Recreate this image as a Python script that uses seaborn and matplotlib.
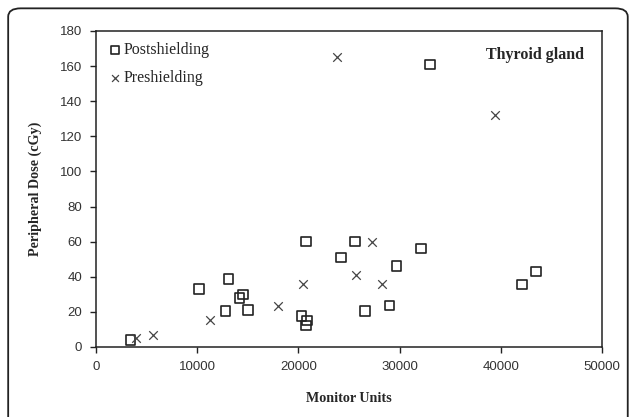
import numpy as np
import pandas as pd
import seaborn as sns
import matplotlib.pyplot as plt
from matplotlib.patches import FancyBboxPatch

# postshielding measurements
post_mu = [3400, 10200, 12800, 13100, 14200, 14500, 15000, 20300, 20750, 20850,
           20750, 24200, 25600, 26600, 29000, 29700, 32100, 33000, 42100, 43500]
post_dose = [4, 33, 20.5, 38.7, 28, 30, 21, 17.8, 12.3, 15,
             60, 51, 60, 20.5, 23.7, 46, 56, 161, 35.5, 43]

# preshielding measurements
pre_mu = [4000, 5600, 11300, 18000, 20500, 23800, 25700, 27300, 28300, 39400]
pre_dose = [5.3, 6.6, 15.4, 23.3, 36, 165, 41, 60, 35.7, 132]

sns.set_style("white")
serif = ["Liberation Serif", "DejaVu Serif"]
sans = ["Liberation Sans", "DejaVu Sans"]

fig = plt.figure(figsize=(6.29, 4.17), dpi=100)
ax = fig.add_axes([0.1526, 0.1679, 0.8044, 0.7578])

# outer rounded frame (bottom edge cut off)
frame = FancyBboxPatch((0.013, -0.1), 0.985, 1.08, boxstyle="round,pad=0,rounding_size=0.02",
                       transform=fig.transFigure, fill=False, ec="#222222", lw=1.3,
                       clip_on=False)
fig.patches.append(frame)

sns.scatterplot(x=post_mu, y=post_dose, ax=ax, marker="s", s=48, facecolor="none",
                edgecolor="#222222", linewidth=1.2, label="Postshielding")
sns.scatterplot(x=pre_mu, y=pre_dose, ax=ax, marker="x", s=38, color="#444444",
                linewidth=0.9, label="Preshielding")

ax.set_xlim(0, 50000)
ax.set_ylim(0, 180)
ax.set_xticks(np.arange(0, 50001, 10000))
ax.set_yticks(np.arange(0, 181, 20))
ax.tick_params(direction="out", length=4, width=1, color="#222222", labelsize=9.5,
               left=True, bottom=True, pad=6)
for lab in ax.get_xticklabels() + ax.get_yticklabels():
    lab.set_family(sans)
    lab.set_color("#333333")
for sp in ax.spines.values():
    sp.set_color("#222222")
    sp.set_linewidth(1.1)

ax.set_xlabel("Monitor Units", family=serif, fontweight="bold", fontsize=10.2, labelpad=14)
ax.set_ylabel("Peripheral Dose (cGy)", family=serif, fontweight="bold", fontsize=10.2, labelpad=13)

ax.text(0.965, 0.925, "Thyroid gland", transform=ax.transAxes, ha="right", va="center",
        family=serif, fontweight="bold", fontsize=11.5)

leg = ax.legend(loc="upper left", frameon=False, prop={"family": serif, "size": 11.5},
                handletextpad=0.05, handlelength=1.0, borderaxespad=0.3, labelspacing=0.75,
                markerscale=0.8)

fig.savefig("out.png", dpi=100)
